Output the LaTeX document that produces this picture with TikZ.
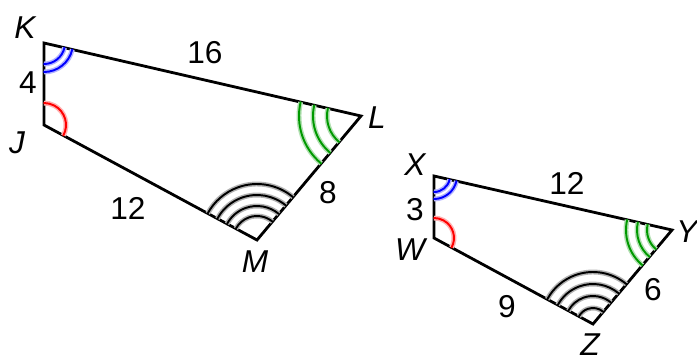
\documentclass[tikz,border=0pt]{standalone}
\usepackage{fontspec}
\setmainfont{Liberation Sans}
\usetikzlibrary{calc}
\begin{document}
\begin{tikzpicture}[x=0.02cm,y=0.02cm,
    side/.style={line width=1.6pt,line join=miter},
    vlabel/.style={font=\fontsize{18}{18}\selectfont\itshape},
    slabel/.style={font=\fontsize{18}{18}\selectfont},
    anglemark/.style={draw=#1,line width=1.1pt,line cap=round,preaction={draw=#1!30,line width=2.8pt}}]
  \useasboundingbox (0,0) rectangle (697,360);
  % JKLM
  \coordinate (K) at (44,317);
  \coordinate (L) at (361,244);
  \coordinate (M) at (257,120);
  \coordinate (J) at (44,235);
  \draw[side] (K) -- (L) -- (M) -- (J) -- cycle;
  \draw[anglemark=blue] ($(K)+(-90:21)$) arc[start angle=-90,end angle=-12.8,radius=21];
  \draw[anglemark=blue] ($(K)+(-90:29)$) arc[start angle=-90,end angle=-12.8,radius=29];
  \draw[anglemark=red] ($(J)+(-28.4:22)$) arc[start angle=-28.4,end angle=90,radius=22];
  \foreach \r in {34,48,62}
    \draw[anglemark=green!60!black] ($(L)+(167:\r)$) arc[start angle=167,end angle=230,radius=\r];
  \foreach \r in {24,34,45,56}
    \draw[anglemark=black] ($(M)+(50:\r)$) arc[start angle=50,end angle=151.6,radius=\r];
  \node[vlabel] (lK) at (25,332) {K};
  \node[vlabel] (lL) at (377,242) {L};
  \node[vlabel] (lM) at (255,98) {M};
  \node[vlabel] (lJ) at (17,217) {J};
  \node[slabel] (sKL) at (205,307) {16};
  \node[slabel] (sLM) at (328,167) {8};
  \node[slabel] (sMJ) at (128,152) {12};
  \node[slabel] (sJK) at (28,277) {4};
  % WXYZ
  \coordinate (X) at (434,184);
  \coordinate (Y) at (672,130);
  \coordinate (Z) at (593,36);
  \coordinate (W) at (434,122);
  \draw[side] (X) -- (Y) -- (Z) -- (W) -- cycle;
  \draw[anglemark=blue] ($(X)+(-90:16)$) arc[start angle=-90,end angle=-12.8,radius=16];
  \draw[anglemark=blue] ($(X)+(-90:23)$) arc[start angle=-90,end angle=-12.8,radius=23];
  \draw[anglemark=red] ($(W)+(-28.4:20)$) arc[start angle=-28.4,end angle=90,radius=20];
  \foreach \r in {25,35,46}
    \draw[anglemark=green!60!black] ($(Y)+(167.2:\r)$) arc[start angle=167.2,end angle=230,radius=\r];
  \foreach \r in {16,28,40,52}
    \draw[anglemark=black] ($(Z)+(50:\r)$) arc[start angle=50,end angle=151.6,radius=\r];
  \node[vlabel] (lX) at (415,195) {X};
  \node[vlabel] (lY) at (687,128) {Y};
  \node[vlabel] (lZ) at (590,15) {Z};
  \node[vlabel] (lW) at (410,110) {W};
  \node[slabel] (sXY) at (567,177) {12};
  \node[slabel] (sYZ) at (653,70) {6};
  \node[slabel] (sZW) at (507,53) {9};
  \node[slabel] (sWX) at (415,150) {3};
\end{tikzpicture}
\end{document}
